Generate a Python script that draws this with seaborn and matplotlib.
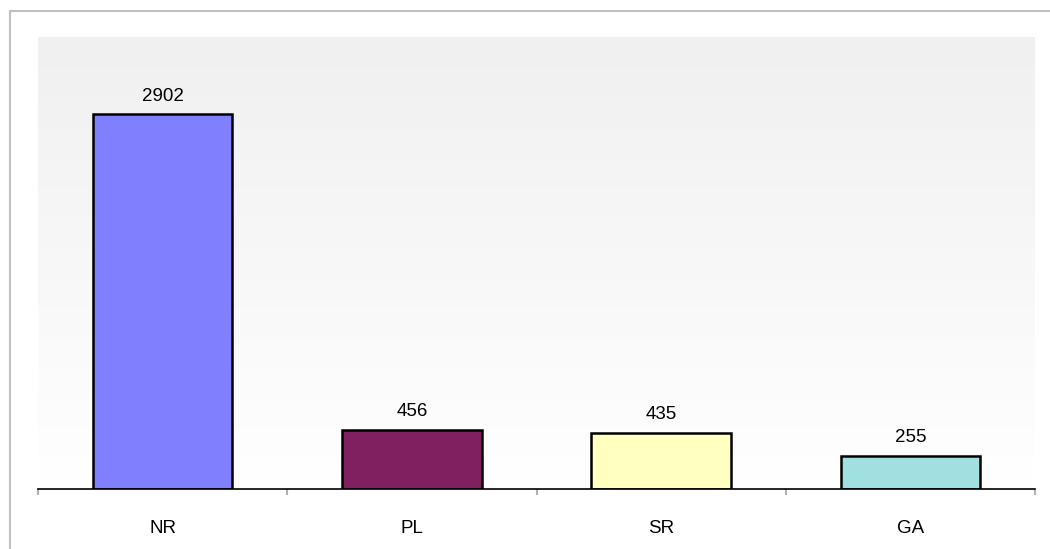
import matplotlib
matplotlib.use("Agg")
import matplotlib.pyplot as plt
import numpy as np
import pandas as pd
import seaborn as sns
from matplotlib.lines import Line2D

categories = ["NR", "PL", "SR", "GA"]
counts = [2902, 456, 435, 255]
bar_colors = ["#8080FF", "#802060", "#FFFFC0", "#A0E0E0"]

sns.set_style("white")
plt.rcParams['font.family'] = ['Liberation Sans', 'DejaVu Sans']
plt.rcParams['text.color'] = 'black'
plt.rcParams['xtick.color'] = 'black'

df = pd.DataFrame({"cat": categories, "n": counts})

W, H = 1050, 549
fig = plt.figure(figsize=(W / 100, H / 100), dpi=100)
ax = fig.add_axes([38 / W, 1 - 489 / H, (1035 - 38) / W, (489 - 37) / H])

# gradient background: light grey at top fading to white
grad = np.linspace(1.0, 0.0, 256).reshape(-1, 1)
ax.imshow(grad, extent=[0, 1, 0, 1], transform=ax.transAxes, aspect="auto",
          cmap=matplotlib.colors.LinearSegmentedColormap.from_list("g", ["#ffffff", "#f0f0f0"]),
          zorder=0)

sns.barplot(data=df, x="cat", y="n", hue="cat", palette=bar_colors, legend=False,
            width=0.56, edgecolor="black", linewidth=1.8, saturation=1, ax=ax, zorder=2)

ax.set_xlim(-0.5, 3.5)
ax.set_ylim(0, 3500)
ax.set_xlabel("")
ax.set_ylabel("")
ax.set_yticks([])
for s in ["top", "right", "left"]:
    ax.spines[s].set_visible(False)
ax.spines["bottom"].set_color("black")
ax.spines["bottom"].set_linewidth(1.2)
ax.spines["bottom"].set_zorder(3)

ax.set_xticks([0, 1, 2, 3])
ax.set_xticklabels(categories, fontsize=13.5, color="black")
ax.tick_params(axis="x", which="major", length=0, pad=22)
# boundary ticks
ax.set_xticks([-0.5, 0.5, 1.5, 2.5, 3.5], minor=True)
ax.tick_params(axis="x", which="minor", bottom=True, length=4, width=1.5,
               color="#b0b0b0", direction="out")

for i, v in enumerate(counts):
    ax.annotate(str(v), xy=(i, v), xytext=(0, 7), textcoords="offset points",
                ha="center", va="bottom", fontsize=13.5, color="black", zorder=4)

# outer border
fig.add_artist(Line2D([10 / W, 10 / W], [0, 1 - 11 / H], transform=fig.transFigure,
                      color="#c0c0c0", linewidth=1.5))
fig.add_artist(Line2D([10 / W, 1], [1 - 11 / H, 1 - 11 / H], transform=fig.transFigure,
                      color="#c0c0c0", linewidth=1.5))

fig.savefig("out.png", dpi=100)
